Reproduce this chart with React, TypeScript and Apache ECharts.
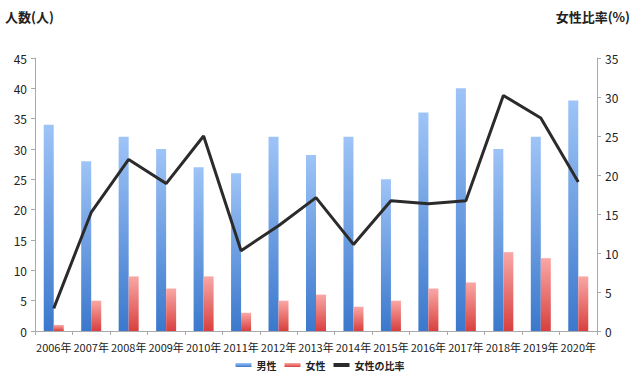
import React, { useEffect, useRef } from "react";
import * as echarts from "echarts";

const categories = ["2006年","2007年","2008年","2009年","2010年","2011年","2012年","2013年","2014年","2015年","2016年","2017年","2018年","2019年","2020年"];
const maleValues = [34, 28, 32, 30, 27, 26, 32, 29, 32, 25, 36, 40, 30, 32, 38];
const femaleValues = [1, 5, 9, 7, 9, 3, 5, 6, 4, 5, 7, 8, 13, 12, 9];
const femaleRatio = [2.9, 15.2, 22.0, 18.9, 25.0, 10.3, 13.5, 17.1, 11.1, 16.7, 16.3, 16.7, 30.2, 27.3, 19.1];

const FONT = "'Noto Sans CJK JP', 'Noto Sans', sans-serif";

export default function App() {
  const ref = useRef<HTMLDivElement>(null);
  useEffect(() => {
    if (!ref.current) return;
    const chart = echarts.init(ref.current, null, { renderer: "svg" });
    const axisText = { color: "#222", fontSize: 12, fontFamily: FONT };
    chart.setOption({
      animation: false,
      textStyle: { fontFamily: FONT },
      grid: { left: 35, right: 43, top: 58, bottom: 48 },
      graphic: [
        { type: "text", left: 5, top: 10, style: { text: "人数(人)", fontSize: 13, fontWeight: "bold", fill: "#222", fontFamily: FONT } },
        { type: "text", right: 10, top: 10, style: { text: "女性比率(%)", fontSize: 13, fontWeight: "bold", fill: "#222", fontFamily: FONT } },
      ],
      legend: {
        bottom: 4,
        left: "center",
        itemWidth: 16,
        itemHeight: 4,
        itemGap: 8,
        textStyle: { fontSize: 10, color: "#222", fontFamily: FONT, fontWeight: "bold" },
        data: [
          { name: "男性", icon: "rect" },
          { name: "女性", icon: "rect" },
          { name: "女性の比率", icon: "rect" },
        ],
      },
      xAxis: {
        type: "category",
        data: categories,
        axisLine: { show: true, lineStyle: { color: "#aaa" } },
        axisTick: { show: true, alignWithLabel: false, length: 4, lineStyle: { color: "#aaa" } },
        axisLabel: { ...axisText, fontSize: 11, margin: 10, interval: 0 },
      },
      yAxis: [
        {
          type: "value", min: 0, max: 45, interval: 5,
          axisLine: { show: true, lineStyle: { color: "#aaa" } },
          axisTick: { show: true, length: 4, lineStyle: { color: "#aaa" } },
          splitLine: { show: false },
          axisLabel: { ...axisText, margin: 8 },
        },
        {
          type: "value", min: 0, max: 35, interval: 5,
          axisLine: { show: true, lineStyle: { color: "#aaa" } },
          axisTick: { show: true, length: 4, lineStyle: { color: "#aaa" } },
          splitLine: { show: false },
          axisLabel: { ...axisText, margin: 8 },
        },
      ],
      series: [
        {
          name: "男性", type: "bar", data: maleValues, barWidth: 10, barGap: "0%",
          itemStyle: {
            color: new echarts.graphic.LinearGradient(0, 0, 0, 1, [
              { offset: 0, color: "#9ec4f7" },
              { offset: 1, color: "#3b78cc" },
            ]),
          },
        },
        {
          name: "女性", type: "bar", data: femaleValues, barWidth: 10,
          itemStyle: {
            color: new echarts.graphic.LinearGradient(0, 0, 0, 1, [
              { offset: 0, color: "#f9a8a6" },
              { offset: 1, color: "#d8403e" },
            ]),
          },
        },
        {
          name: "女性の比率", type: "line", yAxisIndex: 1, data: femaleRatio,
          symbol: "none", lineStyle: { color: "#2b2b2b", width: 3 }, itemStyle: { color: "#2b2b2b" },
        },
      ],
    });
    return () => chart.dispose();
  }, []);
  return <div ref={ref} style={{ width: 640, height: 379, position: "absolute", left: 0, top: 0 }} />;
}
